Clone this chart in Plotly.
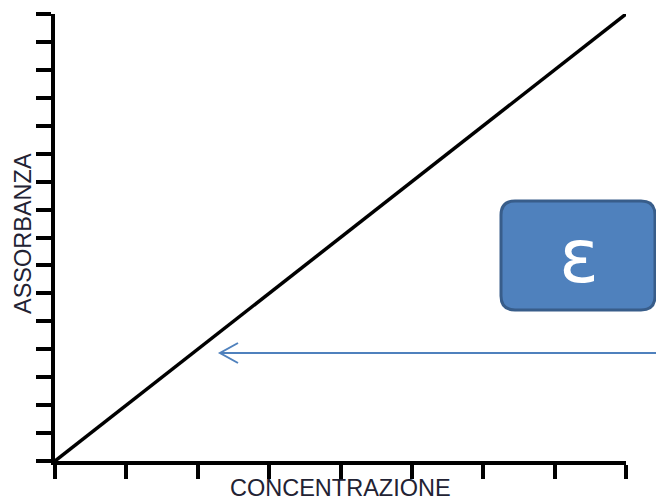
import plotly.graph_objects as go

# Data
conc = [0, 8]
absorb = [0, 16]
x_label = "CONCENTRAZIONE"
y_label = "ASSORBANZA"
box_text = "ε"

W, H = 656, 500
PL, PR, PT, PB = 55, 626, 14, 461   # plot area in window pixels
L, T, R, B = PL, PT, W - PR, H - PB
PW, PH = PR - PL, PB - PT

def px(xp):
    return (xp - PL) / PW

def py(yp):
    return (PB - yp) / PH

fig = go.Figure()
fig.add_trace(go.Scatter(x=conc, y=absorb, mode="lines",
                         line=dict(color="black", width=3.5),
                         cliponaxis=False, hoverinfo="skip"))

axis_common = dict(showgrid=False, zeroline=False, showticklabels=False,
                   ticks="outside", tickwidth=4, tickcolor="black",
                   showline=True, linecolor="black", linewidth=4, dtick=1, tick0=0)
fig.update_xaxes(range=[0, 8], ticklen=14, **axis_common)
fig.update_yaxes(range=[0, 16], ticklen=15, **axis_common)

# rounded box
x0, x1, y0, y1, r = 501, 655, 201, 310, 14
path = (f"M {px(x0+r)},{py(y0)} L {px(x1-r)},{py(y0)} Q {px(x1)},{py(y0)} {px(x1)},{py(y0+r)} "
        f"L {px(x1)},{py(y1-r)} Q {px(x1)},{py(y1)} {px(x1-r)},{py(y1)} "
        f"L {px(x0+r)},{py(y1)} Q {px(x0)},{py(y1)} {px(x0)},{py(y1-r)} "
        f"L {px(x0)},{py(y0+r)} Q {px(x0)},{py(y0)} {px(x0+r)},{py(y0)} Z")
shapes = [
    dict(type="path", xref="paper", yref="paper", path=path,
         fillcolor="#4F81BD", line=dict(color="#385D8A", width=3)),
    dict(type="line", xref="paper", yref="paper", x0=px(220), y0=py(353), x1=px(660), y1=py(353),
         line=dict(color="#4F81BD", width=2)),
    dict(type="path", xref="paper", yref="paper",
         path=f"M {px(238)},{py(343)} L {px(220)},{py(353)} L {px(238)},{py(363)}",
         line=dict(color="#4F81BD", width=2)),
]

annotations = [
    dict(text=y_label, xref="paper", yref="paper", x=px(23), y=py(234), textangle=-90,
         showarrow=False, xanchor="center", yanchor="middle",
         font=dict(family="Liberation Sans, Arial", size=23.5, color="#222233")),
    dict(text=x_label, xref="paper", yref="paper", x=px(340), y=py(488),
         showarrow=False, xanchor="center", yanchor="middle",
         font=dict(family="Liberation Sans, Arial", size=23.5, color="#222233")),
    dict(text=box_text, xref="paper", yref="paper", x=px(579), y=py(256),
         showarrow=False, xanchor="center", yanchor="middle",
         font=dict(family="DejaVu Sans", size=74, color="white")),
]

fig.update_layout(width=W, height=H, margin=dict(l=L, r=R, t=T, b=B),
                  plot_bgcolor="white", paper_bgcolor="white", showlegend=False,
                  shapes=shapes, annotations=annotations)
fig.write_html("out.html", config={"displayModeBar": False},
               post_script="document.body.style.margin='0';document.body.style.overflow='hidden';")
